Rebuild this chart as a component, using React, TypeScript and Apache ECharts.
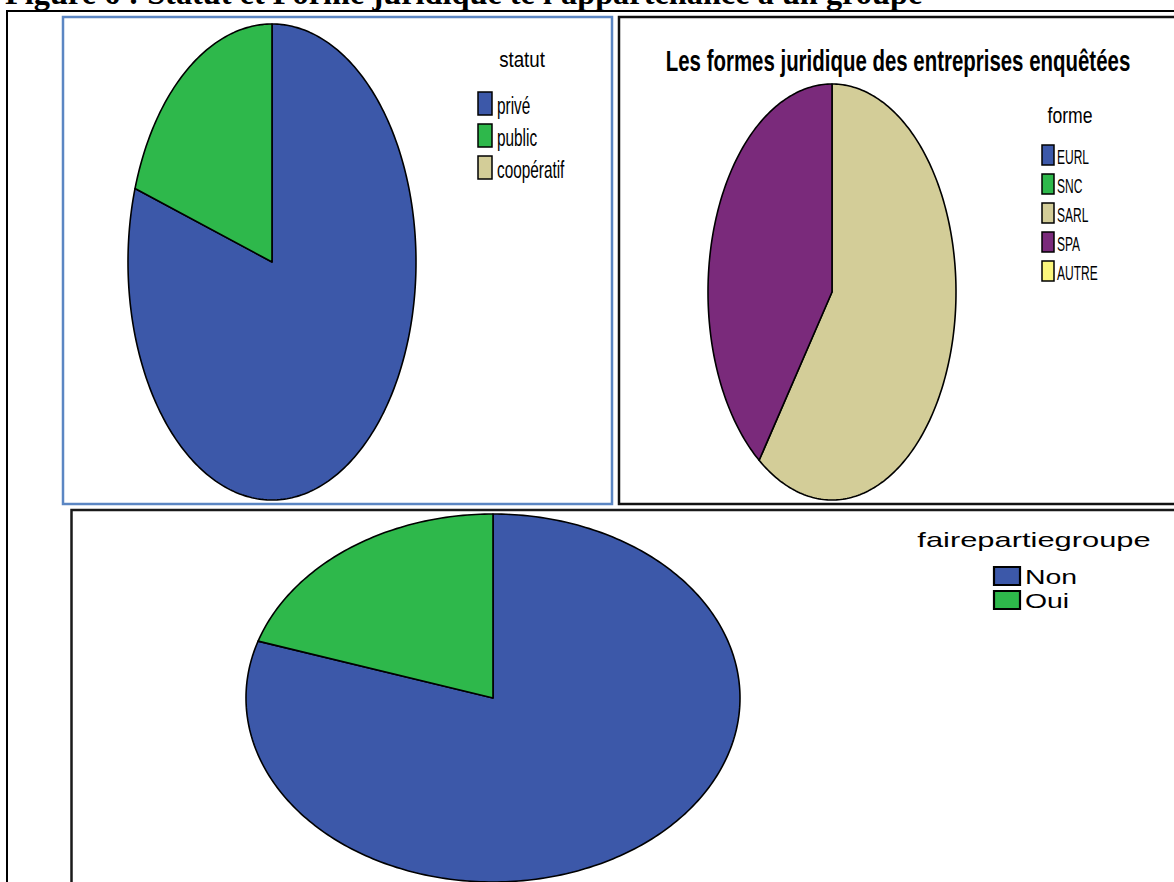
import React, { useEffect, useRef } from "react";
import * as echarts from "echarts";

// ---- Data ----
const statutCategories = ["privé", "public", "coopératif"];
const statutValues = [80, 20, 0];
const formeCategories = ["EURL", "SNC", "SARL", "SPA", "AUTRE"];
const formeValues = [0, 0, 60, 40, 0];
const groupeCategories = ["Non", "Oui"];
const groupeValues = [80, 20];

const statutColors = ["#3c58a9", "#2eb84b", "#d3cd98"];
const formeColors = ["#3c58a9", "#2eb84b", "#d3cd98", "#7a2a7b", "#fbf67c"];
const groupeColors = ["#3c58a9", "#2eb84b"];

const SANS = "'Liberation Sans', Arial, sans-serif";
const SERIF = "'Liberation Serif', 'Times New Roman', serif";

function ellipsePie(
  name: string,
  cats: string[],
  values: number[],
  colors: string[],
  cx: number,
  cy: number,
  rx: number,
  ry: number
) {
  const total = values.reduce((a, b) => a + b, 0);
  return {
    type: "custom",
    name,
    coordinateSystem: "none",
    silent: true,
    z: 5,
    data: cats.map((c, i) => ({ name: c, value: values[i] })),
    renderItem: (params: any, api: any) => {
      const idx = params.dataIndex;
      const v = api.value(0);
      if (!v) return { type: "group", children: [] };
      let before = 0;
      for (let k = 0; k < idx; k++) before += values[k];
      const a0 = (before / total) * 2 * Math.PI;
      const a1 = ((before + v) / total) * 2 * Math.PI;
      const n = Math.max(2, Math.ceil(((a1 - a0) / (2 * Math.PI)) * 360));
      const pts: number[][] = [[cx, cy]];
      for (let j = 0; j <= n; j++) {
        const t = a0 + ((a1 - a0) * j) / n;
        pts.push([cx + rx * Math.sin(t), cy - ry * Math.cos(t)]);
      }
      return {
        type: "polygon",
        shape: { points: pts },
        style: {
          fill: colors[idx],
          stroke: "#000",
          lineWidth: 1.6,
          lineJoin: "round",
        },
      };
    },
  };
}

function txt(
  text: string,
  x: number,
  baseline: number,
  size: number,
  scaleX: number,
  opts: { bold?: boolean; serif?: boolean; align?: string } = {}
) {
  const ratio = opts.serif ? 0.3375 : 0.3465;
  return {
    type: "text",
    x,
    y: baseline - ratio * size,
    scaleX,
    scaleY: 1,
    z: 20,
    silent: true,
    style: {
      text,
      fontSize: size,
      fontFamily: opts.serif ? SERIF : SANS,
      fontWeight: opts.bold ? "bold" : "normal",
      fill: "#000",
      textAlign: opts.align || "left",
      align: opts.align || "left",
      textVerticalAlign: "middle",
      verticalAlign: "middle",
    },
  };
}

function frame(x: number, y: number, w: number, h: number, stroke: string, lw: number) {
  return {
    type: "rect",
    z: 1,
    silent: true,
    shape: { x, y, width: w, height: h },
    style: { fill: "none", stroke, lineWidth: lw },
  };
}

function legend(
  cats: string[],
  colors: string[],
  iconX: number,
  firstTop: number,
  step: number,
  iw: number,
  ih: number,
  textX: number,
  size: number,
  scaleX: number,
  lw: number
) {
  const els: any[] = [];
  cats.forEach((c, i) => {
    const top = firstTop + i * step;
    els.push({
      type: "rect",
      z: 20,
      silent: true,
      shape: { x: iconX, y: top, width: iw, height: ih },
      style: { fill: colors[i], stroke: "#000", lineWidth: lw },
    });
    els.push(txt(c, textX, top + ih - 1, size, scaleX));
  });
  return els;
}

export default function App() {
  const ref = useRef<HTMLDivElement>(null);
  useEffect(() => {
    if (!ref.current) return;
    const chart = echarts.init(ref.current, undefined, { renderer: "svg" });
    const graphic: any[] = [
      frame(7, 11, 1300, 1000, "#000", 2),
      frame(63, 17, 549, 487, "#5b86c3", 2.5),
      frame(619, 17, 700, 487, "#111", 2.5),
      frame(71.5, 510, 1200, 500, "#1a1a1a", 2.5),
      txt("Figure 6 : Statut et Forme juridique te l'appartenance à un groupe", 5, 4, 33, 0.98, {
        bold: true,
        serif: true,
      }),
      txt("statut", 522, 67, 22, 0.85, { align: "center" }),
      ...legend(statutCategories, statutColors, 478, 92, 32, 14, 23, 497, 24, 0.64, 1.5),
      txt("Les formes juridique des entreprises enquêtées", 898, 71, 29, 0.705, {
        bold: true,
        align: "center",
      }),
      txt("forme", 1070, 123, 22, 0.8, { align: "center" }),
      ...legend(formeCategories, formeColors, 1042, 145, 29, 12, 20, 1057, 20, 0.6, 1.5),
      txt("fairepartiegroupe", 1034, 547, 21, 1.47, { align: "center" }),
      ...legend(groupeCategories, groupeColors, 994, 567, 24, 26, 18, 1025, 20, 1.42, 2.2),
    ];
    chart.setOption({
      animation: false,
      backgroundColor: "#fff",
      graphic,
      series: [
        ellipsePie("statut", statutCategories, statutValues, statutColors, 272, 262, 144, 238),
        ellipsePie("forme", formeCategories, formeValues, formeColors, 832, 292, 124, 208),
        ellipsePie("fairepartiegroupe", groupeCategories, groupeValues, groupeColors, 493, 698, 247, 184),
      ],
    });
    return () => chart.dispose();
  }, []);
  return (
    <div
      ref={ref}
      style={{ position: "absolute", left: 0, top: 0, width: 1174, height: 882 }}
    />
  );
}
